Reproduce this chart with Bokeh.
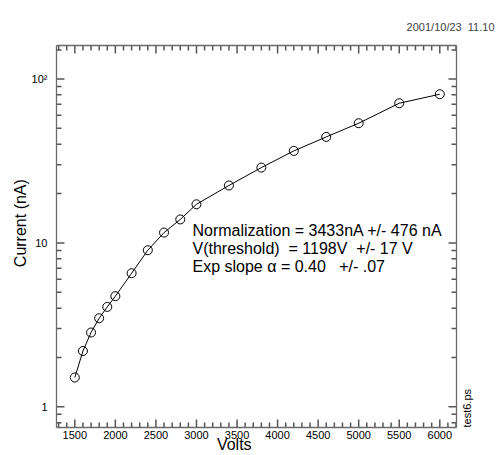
from bokeh.plotting import figure
from bokeh.models import LinearAxis, LogAxis, FixedTicker, Label, Range1d, Title
from bokeh.embed import file_html
from bokeh.resources import INLINE
import math

# Data
volts = [1500, 1600, 1700, 1800, 1900, 2000, 2200, 2400, 2600, 2800, 3000,
         3400, 3800, 4200, 4600, 5000, 5500, 6000]
current = [1.51, 2.19, 2.84, 3.47, 4.07, 4.73, 6.53, 9.02, 11.56, 13.9, 17.2,
           22.4, 28.8, 36.4, 44.3, 53.7, 71.1, 80.7]

x_major = [1500, 2000, 2500, 3000, 3500, 4000, 4500, 5000, 5500, 6000]
x_minor = [v for v in range(1300, 6201, 100) if v % 500 != 0]
y_major = [1, 10, 100]
y_minor = [0.8, 0.9, 2, 3, 4, 5, 6, 7, 8, 9, 20, 30, 40, 50, 60, 70, 80, 90, 150]
y_tick_labels = {1: "1", 10: "10", 100: "10\u00b2"}

fit_lines = ["Normalization = 3433nA +/- 476 nA",
             "V(threshold) \u00a0= 1198V \u00a0+/- 17 V",
             "Exp slope \u03b1 = 0.40 \u00a0 +/- .07"]
x_title = "Volts"
y_title = "Current (nA)"
date_text = "2001/10/23\u00a0\u00a011.10"
file_text = "test6.ps"

FONT = "Liberation Sans"
GRAY = "#6a6a6a"
TICK = "#555555"
NB = "\u00a0"

X0, X1 = 1274, 6206
Y0, Y1 = 0.748, 160

p = figure(width=496, height=455, output_backend="svg", toolbar_location=None,
           x_range=Range1d(X0, X1), y_range=Range1d(Y0, Y1),
           y_axis_type="log", min_border_left=56, min_border_right=40,
           min_border_top=45, min_border_bottom=28,
           outline_line_color=None, background_fill_color="white",
           border_fill_color="white")
p.grid.visible = False

xt = FixedTicker(ticks=x_major, minor_ticks=x_minor)
yt = FixedTicker(ticks=y_major, minor_ticks=y_minor)

def style(ax, labels=True):
    ax.axis_line_color = GRAY
    ax.axis_line_width = 1.3
    ax.major_tick_line_color = None
    ax.minor_tick_line_color = None
    ax.major_tick_in = 0
    ax.major_tick_out = 0
    ax.minor_tick_in = 0
    ax.minor_tick_out = 0
    ax.major_label_text_font = FONT
    ax.major_label_text_font_size = "11px"
    ax.major_label_text_color = "black" if labels else None
    ax.axis_label_text_font = FONT
    ax.axis_label_text_font_style = "normal"
    ax.axis_label_text_color = "black"

xb = p.xaxis[0]
xb.ticker = xt
style(xb)
xb.major_label_standoff = 3
xb.axis_label = x_title + NB * 10
xb.axis_label_text_font_size = "16px"
xb.axis_label_standoff = -6

yl = p.yaxis[0]
yl.ticker = yt
style(yl)
yl.major_label_standoff = 9
yl.major_label_overrides = y_tick_labels
yl.axis_label = NB * 6 + y_title
yl.axis_label_text_font_size = "16px"
yl.axis_label_standoff = 0

xa = LinearAxis(ticker=xt)
style(xa, labels=False)
xa.major_label_text_font_size = "0px"
xa.major_label_standoff = 0
p.add_layout(xa, "above")

yr = LogAxis(ticker=yt)
style(yr, labels=False)
yr.major_label_text_font_size = "0px"
yr.major_label_standoff = 0
yr.axis_label_orientation = math.pi / 2
yr.axis_label_align = "start"
yr.axis_label = file_text
yr.axis_label_text_font_size = "11px"
yr.axis_label_standoff = 10
p.add_layout(yr, "right")

# tick marks pointing into the frame, at the tick values on all four sides
for ticks, ln in ((x_major, 8), (x_minor, 5)):
    p.ray(x=ticks, y=[Y0] * len(ticks), length=ln, length_units="screen",
          angle=math.pi / 2, line_color=TICK, line_width=1.5)
    p.ray(x=ticks, y=[Y1] * len(ticks), length=ln, length_units="screen",
          angle=-math.pi / 2, line_color=TICK, line_width=1.5)
for ticks, ln in ((y_major, 8), (y_minor, 5)):
    p.ray(x=[X0] * len(ticks), y=ticks, length=ln, length_units="screen",
          angle=0, line_color=TICK, line_width=1.5)
    p.ray(x=[X1] * len(ticks), y=ticks, length=ln, length_units="screen",
          angle=math.pi, line_color=TICK, line_width=1.5)

p.add_layout(Title(text=date_text, align="right", offset=-38, standoff=26,
                   text_font=FONT, text_font_size="11px",
                   text_font_style="normal"), "above")

p.line(volts, current, line_color="black", line_width=1)
p.scatter(volts, current, marker="circle", size=9, fill_color=None,
          line_color="black", line_width=1)

for i, t in enumerate(fit_lines):
    p.add_layout(Label(x=136, y=197 - 18 * i, x_units="screen", y_units="screen",
                       text=t, text_font=FONT, text_font_size="16px",
                       text_baseline="middle", text_align="left",
                       text_color="black"))

open("out.html", "w").write(file_html(p, INLINE))
